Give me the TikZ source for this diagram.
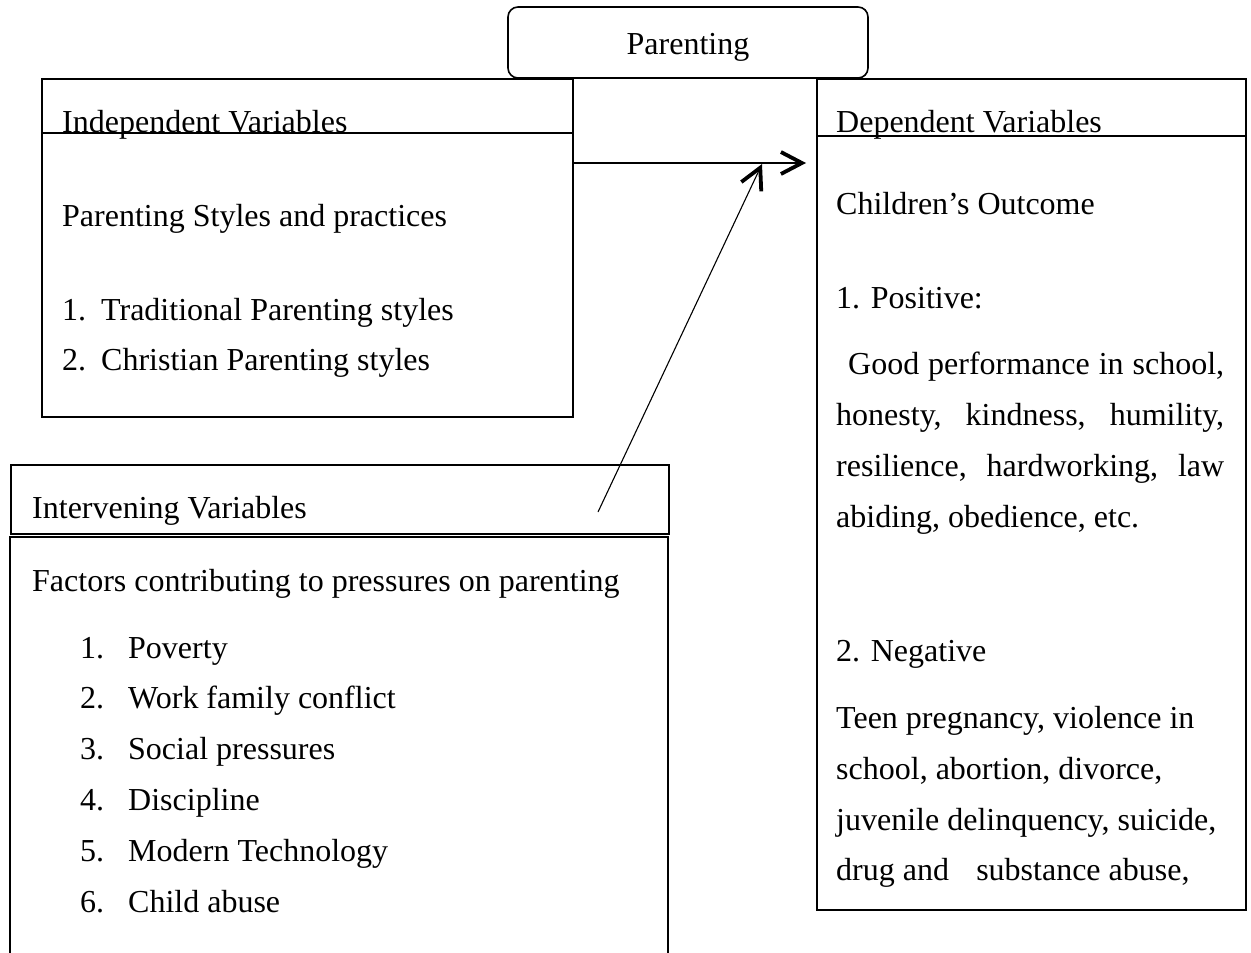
\documentclass[tikz,border=0pt]{standalone}
\usepackage{fontspec}
\setmainfont{Liberation Serif}
\usetikzlibrary{arrows.meta}
\begin{document}
\begin{tikzpicture}[x=1pt,y=-1pt,
  box/.style={draw, line width=1.6pt, inner sep=0pt, anchor=north west},
  rule/.style={line width=1.2pt},
  txt/.style={anchor=base west, inner sep=0pt, yshift=-1.5pt, font=\fontsize{32}{38}\selectfont},
  conn/.style={line width=1.1pt, -{Straight Barb[length=21pt,width=22pt,line width=3.8pt]}}]
\useasboundingbox (0,0) rectangle (1251,953);

% boxes
\node[box, minimum width=531pt, minimum height=338pt] (indep) at (41,78) {};
\node[box, minimum width=429pt, minimum height=831pt] (dep) at (816,78) {};
\node[box, minimum width=658pt, minimum height=69pt] (inthead) at (10,464) {};
\draw[line width=1.6pt] (10,953) -- (10,537) -- (668,537) -- (668,953);
\node[box, anchor=center, fill=white, rounded corners=10pt, minimum width=360pt, minimum height=71pt,
      text height=24pt, text depth=0pt, font=\fontsize{32}{38}\selectfont] (parent) at (688,42.5) {Parenting};

% header dividers
\draw[rule] (41,133) -- (572,133);
\draw[rule] (816,136) -- (1245,136);

% connectors
\coordinate (hend) at (806,163);
\coordinate (dstart) at (598,512);
\coordinate (dend) at (762,164);
\draw[conn] (indep.east |- hend) -- (hend);
\draw[conn] (dstart) -- (dend);

% independent texts
\node[txt] (t1) at (62,131) {Independent Variables};
\node[txt] (t2) at (62,225) {Parenting Styles and practices};
\node[txt] (t3) at (62,319) {1.};
\node[txt] (t3b) at (101,319) {Traditional Parenting styles};
\node[txt] (t4) at (62,369) {2.};
\node[txt] (t4b) at (101,369) {Christian Parenting styles};

% intervening texts
\node[txt] (i0) at (32,517) {Intervening Variables};
\node[txt] (i1) at (32,590) {Factors contributing to pressures on parenting};
\node[txt] at (80,657) {1.};  \node[txt] (l1) at (128,657) {Poverty};
\node[txt] at (80,707) {2.};  \node[txt] (l2) at (128,707) {Work family conflict};
\node[txt] at (80,758) {3.};  \node[txt] (l3) at (128,758) {Social pressures};
\node[txt] at (80,809) {4.};  \node[txt] (l4) at (128,809) {Discipline};
\node[txt] at (80,860) {5.};  \node[txt] (l5) at (128,860) {Modern Technology};
\node[txt] at (80,911) {6.};  \node[txt] (l6) at (128,911) {Child abuse};

% dependent texts
\node[txt] (d0) at (836,131) {Dependent Variables};
\node[txt] (d1) at (836,213) {Children’s Outcome};
\node[txt] (d2) at (836,307) {1. Positive:};
\node[txt] (d3) at (848,373) {\hbox to 376pt{Good\hfill performance\hfill in\hfill school,}};
\node[txt] (d4) at (836,424) {\hbox to 388pt{honesty,\hfill kindness,\hfill humility,}};
\node[txt] (d5) at (836,475) {\hbox to 388pt{resilience,\hfill hardworking,\hfill law}};
\node[txt] (d6) at (836,526) {abiding, obedience, etc.};
\node[txt] (d7) at (836,660) {2. Negative};
\node[txt] (d8) at (836,727) {Teen pregnancy, violence in};
\node[txt] (d9) at (836,778) {school, abortion, divorce,};
\node[txt] (d10) at (836,829) {juvenile delinquency, suicide,};
\node[txt] (d11) at (836,879) {drug and\hspace{0.6em} substance abuse,};
\end{tikzpicture}
\end{document}
